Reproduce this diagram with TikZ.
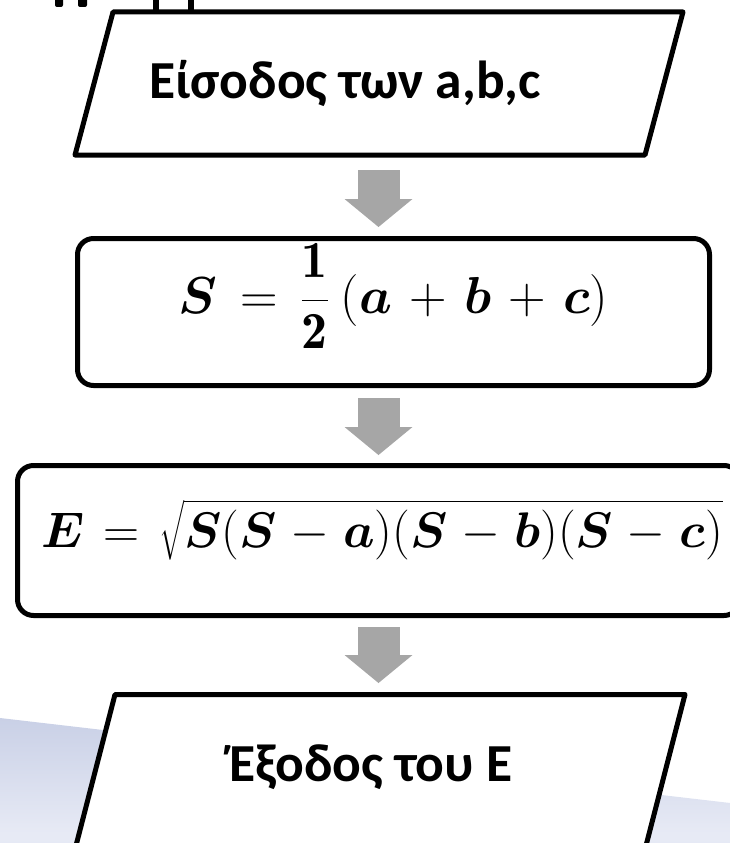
\RequirePackage{fix-cm}
\documentclass[tikz,border=0pt]{standalone}
\usepackage{amsmath}
\usepackage{bm}
\usepackage{fontspec}
\newfontfamily\calibri{Carlito}
\usetikzlibrary{arrows.meta,calc}
\definecolor{arrowgray}{HTML}{A6A6A6}
\definecolor{bandtop}{HTML}{C9D0E6}
\definecolor{bandmid}{HTML}{E7EAF5}
\definecolor{bandbot}{HTML}{DFE3F0}
\tikzset{
  boxline/.style={draw=black,line width=5pt,line join=round},
  roundbox/.style={boxline,rounded corners=16pt,inner sep=0pt,outer sep=0pt,fill=white},
  parframe/.style={inner sep=0pt,outer sep=0pt},
  boxtext/.style={font=\calibri\bfseries\fontsize{53.5}{64}\selectfont,inner sep=0pt,anchor=base west},
  mathtext/.style={inner sep=0pt,anchor=base west},
  blockarrow/.style={draw=arrowgray,line width=42pt,line cap=butt,
    -{Triangle[width=68pt,length=28pt,line width=0pt,fill=arrowgray,color=arrowgray]}},
  fragment/.style={fill=black}
}
\begin{document}
\begin{tikzpicture}[x=1pt,y=-1pt]
\useasboundingbox (0,0) rectangle (730,843);
% background band
\begin{scope}[rotate around={-6.64:(0,718)}]
  \shade[top color=bandtop,bottom color=bandbot,middle color=bandmid] (0,718) rectangle (780,860);
\end{scope}
% cut-off title fragments
\fill[fragment,rounded corners=2pt] (55,-4) rectangle (63,7);
\fill[fragment,rounded corners=2pt] (78,-4) rectangle (87,7);
\fill[fragment] (153,-1) rectangle (159,11);
\fill[fragment] (188,-1) rectangle (194,11);

\coordinate (ax) at (378.5,0);

% input parallelogram
\node[parframe,minimum width=608pt,minimum height=143pt] (in) at (379,83.5) {};
\draw[boxline,fill=white] ($(in.north west)+(38pt,0pt)$) -- (in.north east)
  -- ($(in.south east)-(38pt,0pt)$) -- (in.south west) -- cycle;
\node[boxtext] (tin) at (149,98) {Είσοδος των a,b,c};

% S box
\node[roundbox,minimum width=632pt,minimum height=147pt] (s) at (393.5,312) {};
\node[mathtext,font=\fontsize{52}{62}\selectfont] (fs) at (178,313)
  {\thickmuskip=8mu\medmuskip=6mu%
   $\displaystyle \bm{S}=\frac{\mathbf{1}\rule[-8pt]{0pt}{8pt}}{\rule{0pt}{41pt}\mathbf{2}}\mkern4mu(\bm{a}+\bm{b}+\bm{c})$};

% E box
\node[roundbox,minimum width=722.5pt,minimum height=150pt] (e) at (378.75,540.5) {};
\node[mathtext,font=\fontsize{50}{60}\selectfont] (fe) at (41,547)
  {\thickmuskip=7mu\medmuskip=5mu%
   $\bm{E}=\sqrt{\rule{0pt}{43pt}\bm{S}(\bm{S}-\bm{a})(\bm{S}-\bm{b})(\bm{S}-\bm{c})}$};

% output parallelogram
\node[parframe,minimum width=610pt,minimum height=155pt] (out) at (380,772) {};
\draw[boxline,fill=white] ($(out.north west)+(40pt,0pt)$) -- (out.north east)
  -- ($(out.south east)-(40pt,0pt)$) -- (out.south west) -- cycle;
\node[boxtext] (tout) at (229,781) {Έξοδος του E};

% block arrows
\draw[blockarrow,shorten <=15pt,shorten >=11.5pt] (in.south -| ax) -- (s.north -| ax);
\draw[blockarrow,shorten <=12.5pt,shorten >=10.5pt] (s.south -| ax) -- (e.north -| ax);
\draw[blockarrow,shorten <=11.5pt,shorten >=11.5pt] (e.south -| ax) -- (out.north -| ax);
\end{tikzpicture}
\end{document}
